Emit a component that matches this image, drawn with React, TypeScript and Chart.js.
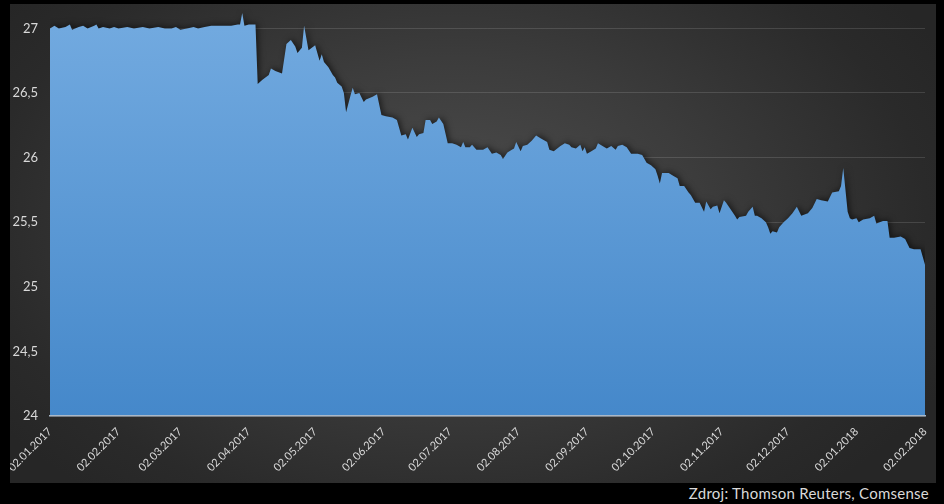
import React, { useEffect, useRef } from "react";
import { Chart, registerables } from "chart.js";

Chart.register(...registerables);

// Days since 02.01.2017
const days: number[] = [
  0, 2, 4, 7, 9, 10, 13, 15, 17, 20, 21, 22, 24, 27, 29, 31, 35, 38, 42, 45, 49, 52, 55, 57, 59, 62, 65, 67, 70, 73,
  76, 79, 82, 85, 86, 87, 88, 90, 93, 94, 96, 99, 100, 102, 105, 107, 109, 111, 112, 114, 115, 117, 120, 122, 123, 124,
  126, 128, 129, 130, 132, 133, 134, 136, 137, 138, 140, 142, 143, 146, 148, 150, 152, 155, 157, 159, 161, 162, 164,
  166, 167, 169, 170, 172, 173, 175, 176, 178, 180, 182, 184, 186, 187, 188, 190, 191, 193, 196, 198, 200, 202, 204,
  205, 207, 209, 210, 211, 213, 214, 216, 218, 220, 222, 224, 225, 226, 228, 231, 233, 235, 236, 238, 240, 241, 242,
  243, 245, 247, 248, 251, 252, 254, 256, 257, 259, 261, 263, 266, 268, 270, 272, 274, 275, 276, 277, 280, 282, 284,
  285, 287, 289, 290, 292, 294, 296, 297, 299, 300, 302, 303, 305, 306, 308, 310, 311, 312, 315, 316, 318, 319, 320,
  322, 324, 325, 326, 327, 329, 330, 332, 334, 336, 338, 340, 343, 345, 347, 349, 352, 354, 357, 358, 359, 361, 362,
  363, 365, 366, 368, 371, 373, 374, 377, 379, 380, 382, 385, 387, 389, 391, 394, 395, 396,
];

// EUR/CZK
const rates: number[] = [
  27.0, 27.02, 27.0, 27.01, 27.03, 26.99, 27.01, 27.02, 27.0, 27.02, 27.03, 27.0, 27.01, 27.0, 27.01, 27.0, 27.01, 27.0,
  27.01, 27.0, 27.01, 27.0, 27.0, 27.01, 26.99, 27.0, 27.01, 27.0, 27.01, 27.02,
  27.02, 27.02, 27.02, 27.03, 27.03, 27.12, 27.02, 27.03, 27.03, 26.57, 26.6, 26.64, 26.69, 26.67, 26.65, 26.88, 26.91,
  26.86, 26.81, 26.85, 27.02, 26.83, 26.87, 26.75, 26.8, 26.74,
  26.7, 26.64, 26.62, 26.58, 26.55, 26.5, 26.35, 26.48, 26.54, 26.49, 26.5, 26.43, 26.45, 26.47, 26.49, 26.33, 26.32,
  26.31, 26.29, 26.17, 26.18, 26.14, 26.23,
  26.16, 26.18, 26.19, 26.29, 26.29, 26.26, 26.28, 26.31, 26.26, 26.11, 26.11, 26.1, 26.08, 26.12, 26.08, 26.08, 26.1,
  26.06, 26.06, 26.08, 26.03, 26.04, 26.02,
  25.99, 26.04, 26.06, 26.07, 26.12, 26.05, 26.09, 26.1, 26.13, 26.17, 26.15, 26.13, 26.12, 26.06, 26.05, 26.09, 26.11,
  26.1, 26.08, 26.07, 26.1, 26.05, 26.08,
  26.03, 26.05, 26.07, 26.11, 26.08, 26.07, 26.09, 26.06, 26.09, 26.1, 26.08, 26.03, 26.03, 26.02, 25.96, 25.94, 25.91,
  25.86, 25.8, 25.88, 25.88, 25.86, 25.84,
  25.78, 25.78, 25.73, 25.71, 25.65, 25.65, 25.58, 25.66, 25.6, 25.62, 25.63, 25.57, 25.67, 25.65, 25.6, 25.55, 25.52,
  25.54, 25.55, 25.58, 25.62, 25.55, 25.55,
  25.53, 25.5, 25.46, 25.41, 25.43, 25.42, 25.46, 25.5, 25.53, 25.57, 25.62, 25.55, 25.57, 25.61, 25.68, 25.67, 25.66,
  25.73, 25.74, 25.78, 25.92, 25.58, 25.53,
  25.52, 25.53, 25.5, 25.52, 25.53, 25.55, 25.49, 25.51, 25.51, 25.38, 25.38, 25.39, 25.37, 25.3, 25.29, 25.29, 25.23,
  25.17,
];

const tickDates: string[] = [
  "02.01.2017", "02.02.2017", "02.03.2017", "02.04.2017", "02.05.2017", "02.06.2017", "02.07.2017",
  "02.08.2017", "02.09.2017", "02.10.2017", "02.11.2017", "02.12.2017", "02.01.2018", "02.02.2018",
];

const yTicks: number[] = [24, 24.5, 25, 25.5, 26, 26.5, 27];

const sourceText = "Zdroj: Thomson Reuters, Comsense";

const toDay = (s: string) => {
  const [d, m, y] = s.split(".").map(Number);
  return Math.round((Date.UTC(y, m - 1, d) - Date.UTC(2017, 0, 2)) / 86400000);
};

const FONT = "Lato, 'Noto Sans', sans-serif";

export default function App() {
  const ref = useRef<HTMLCanvasElement | null>(null);

  useEffect(() => {
    if (!ref.current) return;
    const tickDays = tickDates.map(toDay);
    const labelByDay: Record<number, string> = {};
    tickDays.forEach((d, i) => (labelByDay[d] = tickDates[i]));

    const shadow = {
      id: "areaShadow",
      beforeDatasetsDraw(chart: any) {
        const c = chart.ctx;
        c.save();
        c.shadowColor = "rgba(0,0,0,0.55)";
        c.shadowBlur = 6;
        c.shadowOffsetX = 2;
        c.shadowOffsetY = -1;
      },
      afterDatasetsDraw(chart: any) {
        chart.ctx.restore();
      },
    };

    const chart = new Chart(ref.current, {
      type: "line",
      data: {
        datasets: [
          {
            data: days.map((d, i) => ({ x: d, y: rates[i] })),
            fill: "start",
            borderWidth: 0,
            borderColor: "rgba(0,0,0,0)",
            pointRadius: 0,
            tension: 0,
            backgroundColor: (ctx: any) => {
              const ch = ctx.chart;
              const area = ch.chartArea;
              if (!area) return "#5b9bd5";
              const top = ch.scales.y.getPixelForValue(27);
              const g = ch.ctx.createLinearGradient(0, top, 0, area.bottom);
              g.addColorStop(0, "#71a9df");
              g.addColorStop(1, "#4588ca");
              return g;
            },
          } as any,
        ],
      },
      options: {
        animation: false,
        responsive: false,
        devicePixelRatio: 1,
        layout: { padding: { top: 5, right: 11, left: 0, bottom: 0 } },
        plugins: { legend: { display: false }, tooltip: { enabled: false } },
        scales: {
          x: {
            type: "linear",
            min: 0,
            max: 396,
            afterBuildTicks: (scale: any) => {
              scale.ticks = tickDays.map((v) => ({ value: v }));
            },
            afterFit: (scale: any) => {
              scale.height = 67;
              scale.paddingLeft = 0;
              scale.paddingRight = 0;
            },
            grid: { display: false, drawTicks: false },
            border: { display: true, color: "#a9b8c8", width: 1.5, z: 1 },
            ticks: {
              autoSkip: false,
              maxRotation: 45,
              minRotation: 45,
              padding: 9,
              color: "#d9d9d9",
              font: { family: FONT, size: 11 },
              callback: (v: any) => labelByDay[v as number] ?? "",
            },
          },
          y: {
            min: 24,
            max: 27.15,
            afterBuildTicks: (scale: any) => {
              scale.ticks = yTicks.map((v) => ({ value: v }));
            },
            afterFit: (scale: any) => {
              scale.width = 40;
              scale.paddingTop = 0;
            },
            grid: { color: "rgba(255,255,255,0.13)", drawTicks: false, lineWidth: 1 },
            border: { display: false },
            ticks: {
              padding: 12,
              color: "#d9d9d9",
              font: { family: FONT, size: 13 },
              callback: (v: any) => String(v).replace(".", ","),
            },
          },
        },
      },
      plugins: [shadow],
    });
    return () => chart.destroy();
  }, []);

  return (
    <div style={{ position: "fixed", left: 0, top: 0, width: 944, height: 504, background: "#000" }}>
      <div
        style={{
          position: "absolute",
          left: 10,
          top: 4,
          width: 926,
          height: 479,
          background: "radial-gradient(ellipse 60% 75% at 48% 45%, #4d4d4d 0%, #3c3c3c 45%, #2a2a2a 85%, #262626 100%)",
        }}
      >
        <canvas ref={ref} width={926} height={479} style={{ width: 926, height: 479, display: "block" }} />
      </div>
      <div
        style={{
          position: "absolute",
          right: 15,
          top: 483,
          fontFamily: FONT,
          fontSize: 15,
          letterSpacing: "0.25px",
          color: "#d9d9d9",
          whiteSpace: "nowrap",
          lineHeight: "20px",
        }}
      >
        {sourceText}
      </div>
    </div>
  );
}
